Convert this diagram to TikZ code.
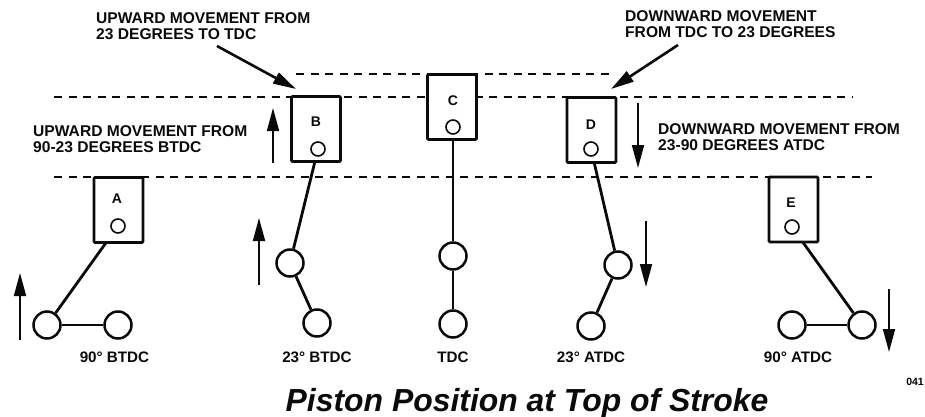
\documentclass[tikz,border=0pt]{standalone}
\usepackage{fontspec}
\setmainfont{Liberation Sans}
\usepackage{xcolor}
\usetikzlibrary{arrows.meta, backgrounds}
\definecolor{inkblack}{RGB}{10, 10, 10}
\tikzset{
    pistonbox/.style={draw=inkblack, line width=2.6pt, fill=white, rounded corners=1pt,
        minimum width=49pt, minimum height=65pt, inner sep=0pt},
    pinhole/.style={draw=inkblack, line width=1.6pt, fill=white, circle,
        minimum size=14pt, inner sep=0pt},
    crankpin/.style={draw=inkblack, line width=2.5pt, fill=white, circle,
        minimum size=27pt, inner sep=0pt},
    rodline/.style={inkblack, line width=2.8pt},
    deadline/.style={inkblack, line width=2pt, dash pattern=on 8pt off 6.5pt},
    motionarrow/.style={inkblack, line width=1.8pt, -{Triangle[length=23pt, width=12pt]}},
    notetext/.style={font=\fontsize{15.6}{16.5}\selectfont\bfseries, text=inkblack, align=left, anchor=north west, inner sep=0pt},
    steptext/.style={font=\fontsize{15.2}{16}\selectfont\bfseries, text=inkblack, inner sep=0pt},
    lettertext/.style={font=\fontsize{14}{16}\selectfont\bfseries, text=inkblack, inner sep=0pt}
}
\begin{document}
\begin{tikzpicture}[x=1pt, y=-1pt]
    \useasboundingbox (0,0) rectangle (925,417);
    % pistons
    \node[pistonbox] (boxA) at (118.5,210) {};
    \node[pistonbox] (boxB) at (316,129) {};
    \node[pistonbox] (boxC) at (452,107) {};
    \node[pistonbox] (boxD) at (591.5,130) {};
    \node[pistonbox] (boxE) at (793.5,209.5) {};
    \node[lettertext] (letterA) at (117,199) {A};
    \node[lettertext] (letterB) at (316,122) {B};
    \node[lettertext] (letterC) at (453,101) {C};
    \node[lettertext] (letterD) at (591,125) {D};
    \node[lettertext] (letterE) at (791,203) {E};
    \node[pinhole] (pinA) at (118,226) {};
    \node[pinhole] (pinB) at (318,149) {};
    \node[pinhole] (pinC) at (453,127) {};
    \node[pinhole] (pinD) at (591,149) {};
    \node[pinhole] (pinE) at (792,227) {};
    % crank ends
    \node[crankpin] (bigA) at (47,325) {};
    \node[crankpin] (endA) at (118,325) {};
    \node[crankpin] (bigB) at (290,263) {};
    \node[crankpin] (endB) at (317,323) {};
    \node[crankpin] (bigC) at (453,256) {};
    \node[crankpin] (endC) at (453,324) {};
    \node[crankpin] (bigD) at (618,265) {};
    \node[crankpin] (endD) at (591,326) {};
    \node[crankpin] (endE) at (792,325) {};
    \node[crankpin] (bigE) at (862,325) {};
    \begin{scope}[on background layer]
        \foreach \p in {A,B,C,D,E}{
            \draw[rodline] (pin\p) -- (big\p);
            \draw[rodline] (big\p) -- (end\p);
        }
        \coordinate (topL) at (296,74);
        \coordinate (topR) at (612,74);
        \coordinate (midL) at (54,97);
        \coordinate (midR) at (852,97);
        \coordinate (lowL) at (54,177);
        \coordinate (lowR) at (872,177);
        \draw[deadline] (topL) -- (topR);
        \draw[deadline] (midL) -- (midR);
        \draw[deadline] (lowL) -- (lowR);
    \end{scope}
    % motion arrows
    \coordinate (upAs) at (20,340);
    \coordinate (upAe) at (20,273);
    \coordinate (upBs) at (259,285);
    \coordinate (upBe) at (259,218);
    \coordinate (upMs) at (273,163);
    \coordinate (upMe) at (273,108);
    \coordinate (dnMs) at (638,103);
    \coordinate (dnMe) at (638,168);
    \coordinate (dnDs) at (646,221);
    \coordinate (dnDe) at (646,287);
    \coordinate (dnEs) at (889,289);
    \coordinate (dnEe) at (889,352);
    \draw[motionarrow] (upAs) -- (upAe);
    \draw[motionarrow] (upBs) -- (upBe);
    \draw[motionarrow] (upMs) -- (upMe);
    \draw[motionarrow] (dnMs) -- (dnMe);
    \draw[motionarrow] (dnDs) -- (dnDe);
    \draw[motionarrow] (dnEs) -- (dnEe);
    % callouts
    \coordinate (callBs) at (217,46);
    \coordinate (callBe) at (296,89);
    \coordinate (callDs) at (678,45);
    \coordinate (callDe) at (611,89);
    \draw[motionarrow, line width=2.6pt] (callBs) -- (callBe);
    \draw[motionarrow, line width=2.6pt] (callDs) -- (callDe);
    \node[notetext] (noteB) at (96,12) {UPWARD MOVEMENT FROM\\23 DEGREES TO TDC};
    \node[notetext] (noteD) at (625,10) {DOWNWARD MOVEMENT\\FROM TDC TO 23 DEGREES};
    \node[notetext] (noteUp) at (33,125) {UPWARD MOVEMENT FROM\\90-23 DEGREES BTDC};
    \node[notetext] (noteDn) at (658,123) {DOWNWARD MOVEMENT FROM\\23-90 DEGREES ATDC};
    % position labels
    \node[steptext] (stepA) at (114.5,357) {90° BTDC};
    \node[steptext] (stepB) at (317,357) {23° BTDC};
    \node[steptext] (stepC) at (453,357) {TDC};
    \node[steptext] (stepD) at (591,357) {23° ATDC};
    \node[steptext] (stepE) at (798,357) {90° ATDC};
    \node[font=\fontsize{10.5}{11}\selectfont\bfseries, inner sep=0pt] (codeno) at (915,382) {041};
    \node[font=\fontsize{31.9}{34}\selectfont\bfseries\itshape, text=inkblack, inner sep=0pt] (title) at (527,403) {Piston Position at Top of Stroke};
\end{tikzpicture}
\end{document}
